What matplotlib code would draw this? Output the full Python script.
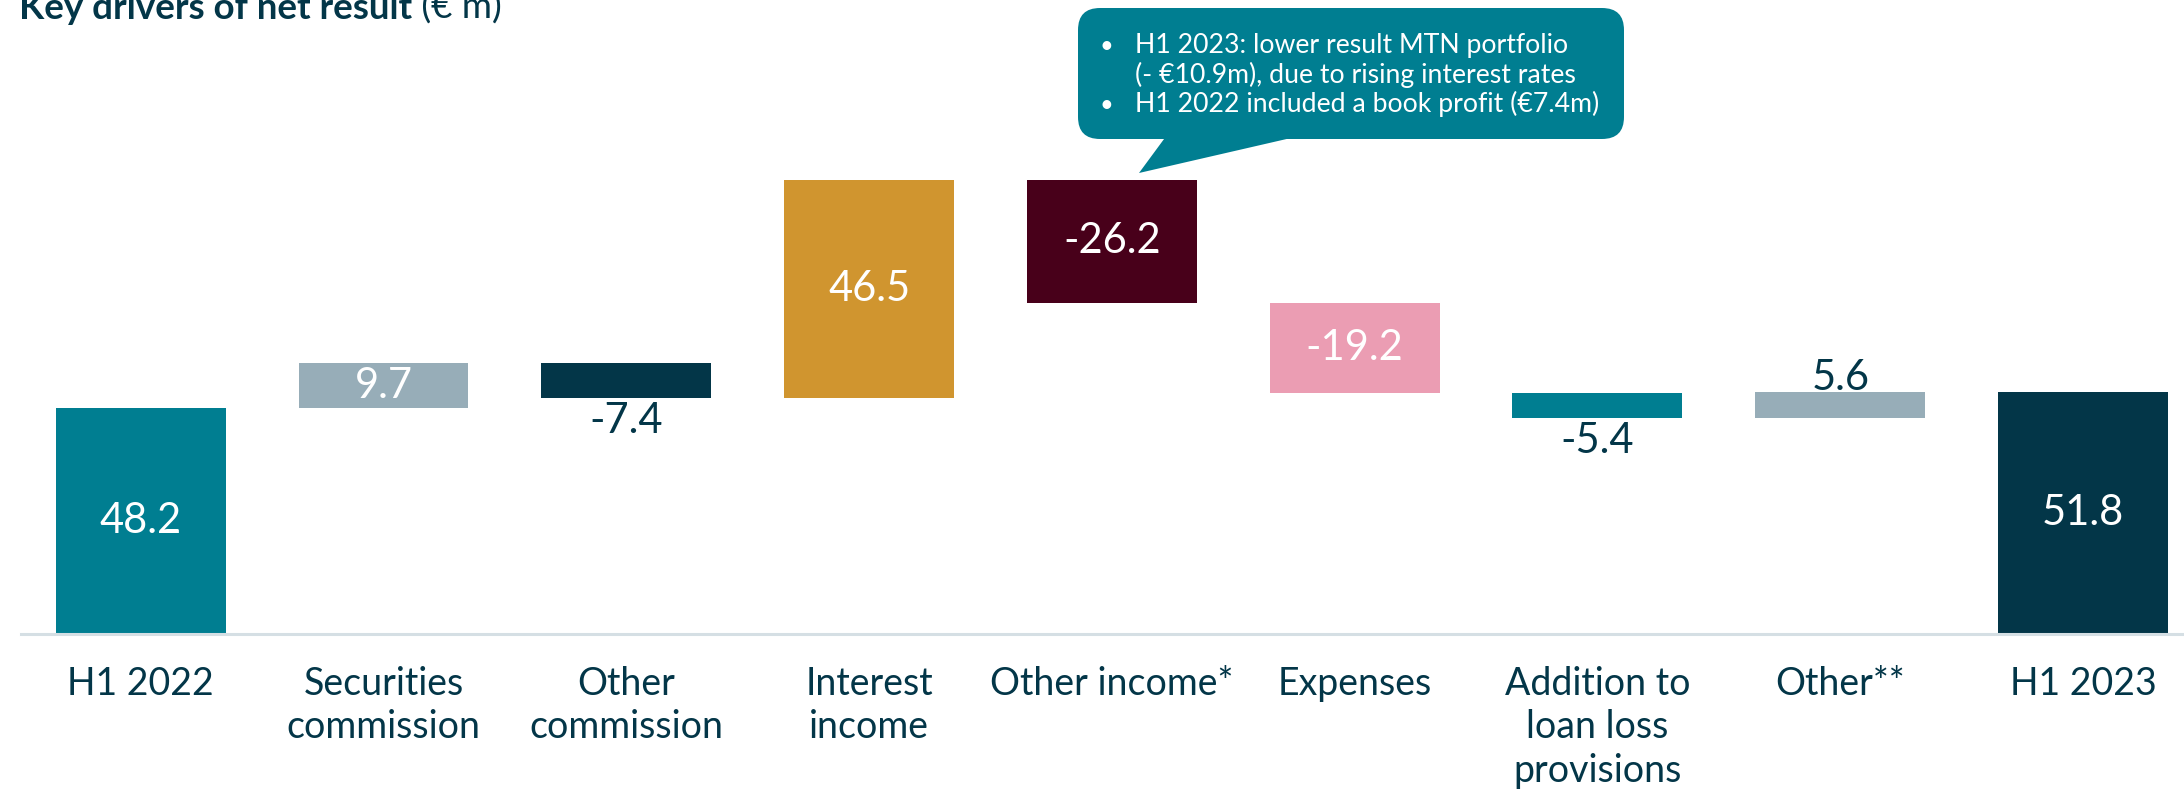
import matplotlib
matplotlib.use('Agg')
import matplotlib.pyplot as plt
from matplotlib.patches import FancyBboxPatch, Polygon
from matplotlib.transforms import IdentityTransform

plt.rcParams['font.family'] = ['Lato', 'DejaVu Sans']

# data
categories = ['H1 2022', 'Securities\ncommission', 'Other\ncommission', 'Interest\nincome',
              'Other income*', 'Expenses', 'Addition to\nloan loss\nprovisions', 'Other**', 'H1 2023']
start_value = 48.2
changes = [9.7, -7.4, 46.5, -26.2, -19.2, -5.4, 5.6]
end_value = 51.8
bar_colors = ['#007e91', '#97adb8', '#033648', '#d0952f', '#48001a',
              '#eb9db3', '#007e91', '#97adb8', '#033648']
label_places = ['inside', 'inside', 'below', 'inside', 'inside', 'inside', 'below', 'above', 'inside']
note_lines = [('•', 'H1 2023: lower result MTN portfolio'),
              ('', '(- €10.9m), due to rising interest rates'),
              ('•', 'H1 2022 included a book profit (€7.4m)')]

dark = '#033648'
W, H = 2184, 790

# waterfall geometry
bottoms, heights, values = [0], [start_value], [start_value]
run = start_value
for d in changes:
    bottoms.append(min(run, run + d))
    heights.append(abs(d))
    values.append(d)
    run += d
bottoms.append(0)
heights.append(end_value)
values.append(end_value)

fig = plt.figure(figsize=(W / 100, H / 100), dpi=100)
ax = fig.add_axes([21 / W, 156 / H, 1 - 21 / W, 1 - 156 / H])

x = range(len(categories))
ax.bar(x, heights, bottom=bottoms, width=0.7, color=bar_colors)
ax.set_xlim(-0.493, 8.416)
ax.set_ylim(0, 135.5)

for i, (b, h, v, place) in enumerate(zip(bottoms, heights, values, label_places)):
    txt = f'{v:.1f}'
    if place == 'inside':
        ax.text(i, b + h / 2, txt, ha='center', va='center', color='white', fontsize=30)
    elif place == 'below':
        ax.annotate(txt, (i, b), xytext=(0, -3), textcoords='offset points',
                    ha='center', va='top', color=dark, fontsize=30)
    else:
        ax.annotate(txt, (i, b + h), xytext=(0, -4), textcoords='offset points',
                    ha='center', va='bottom', color=dark, fontsize=30)

for s in ['top', 'right', 'left']:
    ax.spines[s].set_visible(False)
ax.spines['bottom'].set_color('#d5dfe4')
ax.spines['bottom'].set_linewidth(2.2)
ax.set_yticks([])
ax.set_xticks(list(x))
ax.set_xticklabels(categories, fontsize=27, color=dark, linespacing=1.26)
ax.tick_params(axis='x', length=0, pad=23)

# callout
box = FancyBboxPatch((1078, 651), 546, 131, boxstyle='round,pad=0,rounding_size=22',
                     transform=IdentityTransform(), facecolor='#007e91', edgecolor='none')
fig.patches.append(box)
tail = Polygon([(1167, 655), (1304, 655), (1139, 617)], closed=True,
               transform=IdentityTransform(), facecolor='#007e91', edgecolor='none')
fig.patches.append(tail)
for k, (bullet, line) in enumerate(note_lines):
    yb = 737 - k * 29.5
    if bullet:
        fig.text(1099 / W, yb / H, bullet, color='white', fontsize=17, va='baseline')
    fig.text(1135 / W, yb / H, line, color='white', fontsize=19.2, va='baseline')

# title
t1 = fig.text(19 / W, 1 - 19 / H, 'Key drivers of net result', fontsize=26.5, weight='bold',
              color=dark, va='baseline')
fig.canvas.draw()
ext = t1.get_window_extent()
fig.text(ext.x1 / W, 1 - 19 / H, ' (€ m)', fontsize=26.5, color=dark, va='baseline')

fig.savefig('out.png', dpi=100)
